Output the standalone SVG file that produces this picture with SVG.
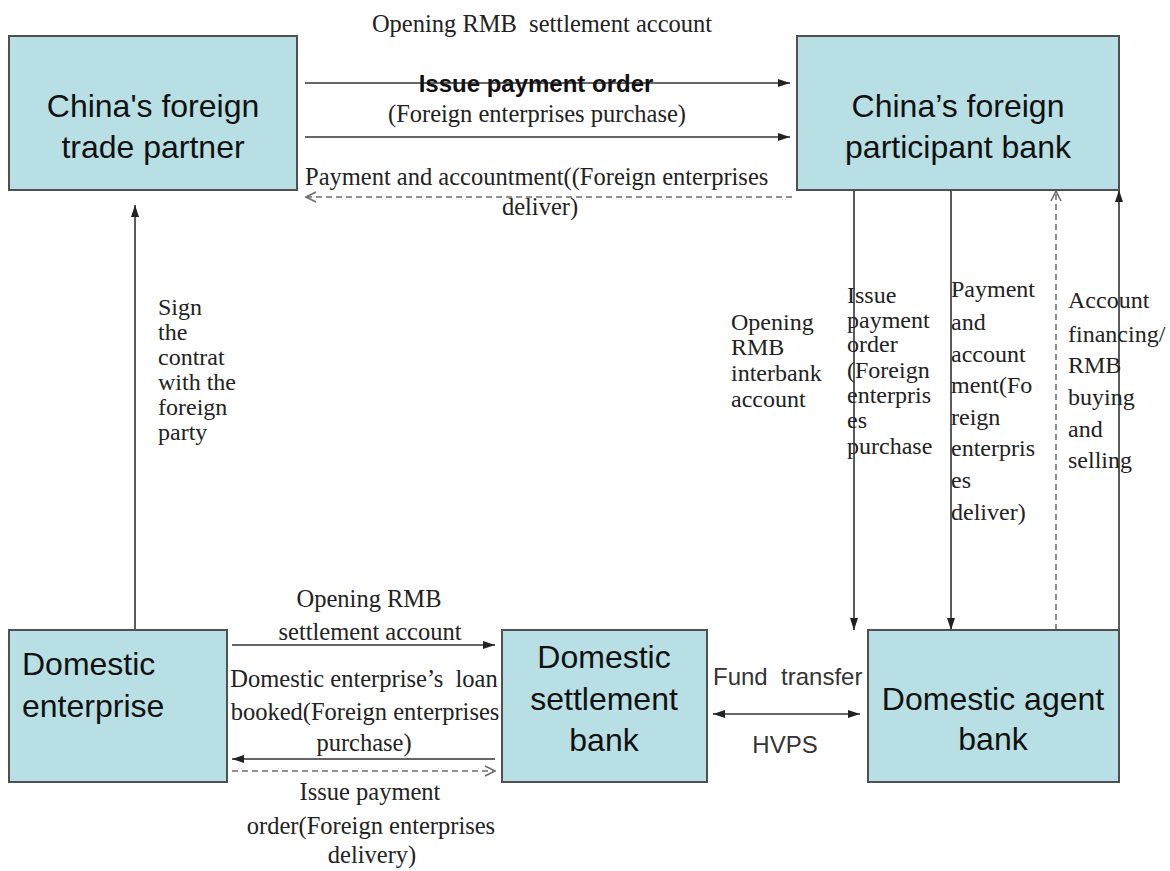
<svg xmlns="http://www.w3.org/2000/svg" width="1170" height="871" viewBox="0 0 1170 871">
<style>
.box{fill:#b8dfe3;stroke:#505050;stroke-width:2}
.bt{font-family:"Liberation Sans",Arial,sans-serif;font-size:32px;fill:#111}
.st{font-family:"Liberation Serif","Times New Roman",serif;font-size:24.5px;fill:#222}
.vt{font-family:"Liberation Serif","Times New Roman",serif;font-size:24px;fill:#222}
.ln{stroke:#333;stroke-width:1.6;fill:none}
.dl{stroke:#6e6e6e;stroke-width:1.6;fill:none;stroke-dasharray:6 4}
.at{font-family:"Liberation Sans",Arial,sans-serif;font-size:24px;fill:#333}
</style>
<defs>
<marker id="arr" viewBox="0 0 12 10" refX="12" refY="5" markerWidth="12" markerHeight="10" markerUnits="userSpaceOnUse" orient="auto-start-reverse"><path d="M0,1 L12,5 L0,9 z" fill="#222"/></marker>
<marker id="open" viewBox="0 0 12 12" refX="11" refY="6" markerWidth="12" markerHeight="12" markerUnits="userSpaceOnUse" orient="auto"><path d="M1,1 L11,6 L1,11" fill="none" stroke="#6e6e6e" stroke-width="1.6"/></marker>
</defs>
<rect width="1170" height="871" fill="#fff"/>
<g id="connectors">
<path class="ln" d="M305,83 H790" marker-end="url(#arr)"/>
<path class="ln" d="M305,137 H790" marker-end="url(#arr)"/>
<path class="dl" d="M792,197 H306" marker-end="url(#open)"/>
<path class="ln" d="M135,630 V205" marker-end="url(#arr)"/>
<path class="ln" d="M854,190 V630" marker-end="url(#arr)"/>
<path class="ln" d="M951,190 V630" marker-end="url(#arr)"/>
<path class="dl" d="M1056,630 V191" marker-end="url(#open)"/>
<path class="ln" d="M1119,630 V190" marker-end="url(#arr)"/>
<path class="ln" d="M232,645 H495" marker-end="url(#arr)"/>
<path class="ln" d="M495,759 H232" marker-end="url(#arr)"/>
<path class="dl" d="M232,771 H495" marker-end="url(#open)"/>
<path class="ln" d="M713,714 H860" marker-start="url(#arr)" marker-end="url(#arr)"/>
<text class="st" x="542" y="32" text-anchor="middle" xml:space="preserve">Opening RMB  settlement account</text>
<text x="536" y="92" text-anchor="middle" font-family="Liberation Sans,Arial,sans-serif" font-size="24" font-weight="bold" fill="#111">Issue payment order</text>
<text class="st" x="537" y="122" text-anchor="middle">(Foreign enterprises purchase)</text>
<text class="st" x="305" y="185">Payment and accountment((Foreign enterprises</text>
<text class="st" x="540" y="215" text-anchor="middle">deliver)</text>
<text class="vt"><tspan x="158" y="315">Sign</tspan><tspan x="158" y="340">the</tspan><tspan x="158" y="365">contrat</tspan><tspan x="158" y="390">with the</tspan><tspan x="158" y="415">foreign</tspan><tspan x="158" y="440">party</tspan></text>
<text class="vt"><tspan x="731" y="330">Opening</tspan><tspan x="731" y="355">RMB</tspan><tspan x="731" y="381">interbank</tspan><tspan x="731" y="407">account</tspan></text>
<text class="vt"><tspan x="847" y="303">Issue</tspan><tspan x="847" y="328">payment</tspan><tspan x="847" y="352">order</tspan><tspan x="847" y="378">(Foreign</tspan><tspan x="847" y="403">enterpris</tspan><tspan x="847" y="428">es</tspan><tspan x="847" y="454">purchase</tspan></text>
<text class="vt"><tspan x="951" y="297">Payment</tspan><tspan x="951" y="330">and</tspan><tspan x="951" y="362">account</tspan><tspan x="951" y="393">ment(Fo</tspan><tspan x="951" y="425">reign</tspan><tspan x="951" y="456">enterpris</tspan><tspan x="951" y="488">es</tspan><tspan x="951" y="520">deliver)</tspan></text>
<text class="vt"><tspan x="1068" y="308">Account</tspan><tspan x="1068" y="342">financing/</tspan><tspan x="1068" y="373">RMB</tspan><tspan x="1068" y="405">buying</tspan><tspan x="1068" y="437">and</tspan><tspan x="1068" y="468">selling</tspan></text>
<text class="st" text-anchor="middle" xml:space="preserve"><tspan x="369" y="607">Opening RMB</tspan><tspan x="370" y="640">settlement account</tspan><tspan x="364" y="687">Domestic enterprise’s  loan</tspan><tspan x="365" y="720">booked(Foreign enterprises</tspan><tspan x="364" y="751">purchase)</tspan><tspan x="370" y="800">Issue payment</tspan><tspan x="371" y="834">order(Foreign enterprises</tspan><tspan x="372" y="863">delivery)</tspan></text>
<text class="at" x="713" y="685" xml:space="preserve">Fund  transfer</text>
<text class="at" x="785" y="753" text-anchor="middle">HVPS</text>
</g>
<g id="node-foreign-partner">
<rect class="box" x="9" y="36" width="288" height="154"/>
<text class="bt" text-anchor="middle"><tspan x="153" y="117">China's foreign</tspan><tspan x="153" y="158">trade partner</tspan></text>
</g>
<g id="node-foreign-bank">
<rect class="box" x="797" y="36" width="322" height="154"/>
<text class="bt" text-anchor="middle"><tspan x="958" y="117">China’s foreign</tspan><tspan x="958" y="158">participant bank</tspan></text>
</g>
<g id="node-domestic-enterprise">
<rect class="box" x="9" y="630" width="218" height="152"/>
<text class="bt"><tspan x="22" y="675">Domestic</tspan><tspan x="22" y="717">enterprise</tspan></text>
</g>
<g id="node-settlement-bank">
<rect class="box" x="502" y="630" width="205" height="152"/>
<text class="bt" text-anchor="middle"><tspan x="604" y="668">Domestic</tspan><tspan x="604" y="710">settlement</tspan><tspan x="604" y="751">bank</tspan></text>
</g>
<g id="node-agent-bank">
<rect class="box" x="868" y="630" width="251" height="152"/>
<text class="bt" text-anchor="middle"><tspan x="993" y="710">Domestic agent</tspan><tspan x="993" y="750">bank</tspan></text>
</g>
</svg>
